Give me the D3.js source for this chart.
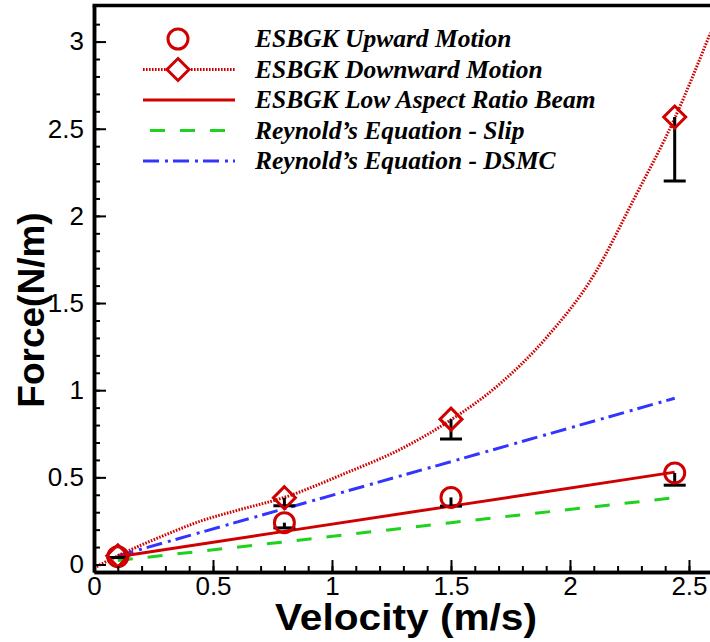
<!DOCTYPE html>
<html>
<head>
<meta charset="utf-8">
<script src="https://cdn.jsdelivr.net/npm/d3@7"></script>
<style>
    body { margin: 0; background: #fff; }
    .tick text { font-family: "Liberation Sans", Arial, sans-serif; }
</style>
</head>
<body>
<div class="chart"></div>
<script>

// Velocities where the ESBGK simulations were run
var velocity = [0.1, 0.8, 1.5, 2.44];

// ESBGK upward motion (circles) and its lower error bound
var upForce = [0.045, 0.24, 0.385, 0.525];
var upErrLow = [0.04, 0.21, 0.335, 0.455];

// ESBGK downward motion (diamonds) and its lower error bound
var downForce = [0.05, 0.383, 0.834, 2.567];
var downErrLow = [0.04, 0.337, 0.72, 2.2];

// Fitted curve through the downward motion results
var downCurveV = [0, 0.1, 0.3, 0.45, 0.6, 0.8, 1.05, 1.3, 1.5, 1.7, 1.9, 2.1, 2.27, 2.44, 2.59];
var downCurveF = [-0.02, 0.05, 0.17, 0.25, 0.31, 0.385, 0.52, 0.67, 0.83, 1.03, 1.3, 1.66, 2.1, 2.56, 3.05];

// Low aspect ratio beam and Reynold's equation lines
var beamForce = [0.045, 0.19, 0.335, 0.53];
var slipForce = [0.023, 0.13, 0.24, 0.383];
var dsmcForce = [0.05, 0.32, 0.59, 0.954];

// Tick values and labels
var xTicks = [0, 0.5, 1, 1.5, 2, 2.5];
var xTickLabels = ["0", "0.5", "1", "1.5", "2", "2.5"];
var yTicks = [0, 0.5, 1, 1.5, 2, 2.5, 3];
var yTickLabels = ["0", "0.5", "1", "1.5", "2", "2.5", "3"];

var legendNames = ["ESBGK Upward Motion", "ESBGK Downward Motion", "ESBGK Low Aspect Ratio Beam",
    "Reynold\u2019s Equation - Slip", "Reynold\u2019s Equation - DSMC"];

var width = 710, height = 642;
var red = "#d10000", green = "#1ed21e", blue = "#3434ff";

var svg = d3.select(".chart")
    .append("svg")
        .attr("width", width)
        .attr("height", height)
        .style("display", "block");

// Scales
var x = d3.scaleLinear().domain([0, 2.59]).range([94, 710.4]);
var y = d3.scaleLinear().domain([-0.043, 3.207]).range([572, 5.5]);

svg.append("defs").append("clipPath")
    .attr("id", "plotClip")
    .append("rect")
        .attr("x", 94).attr("y", 5.5)
        .attr("width", 620).attr("height", 566.5);

var plot = svg.append("g").attr("clip-path", "url(#plotClip)");

var line = d3.line()
    .x(function(d) { return x(d[0]); })
    .y(function(d) { return y(d[1]); });

// Straight series
var straight = [
    { values: slipForce, color: green, width: 3, dash: "15,15" },
    { values: dsmcForce, color: blue, width: 3, dash: "16,6,3,5" },
    { values: beamForce, color: red, width: 3, dash: null }
];

straight.forEach(function(s) {
    plot.append("path")
        .datum(d3.zip(velocity, s.values))
        .attr("d", line)
        .attr("fill", "none")
        .attr("stroke", s.color)
        .attr("stroke-width", s.width)
        .attr("stroke-dasharray", s.dash);
});

// Dotted fit through the downward motion
plot.append("path")
    .datum(d3.zip(downCurveV, downCurveF))
    .attr("d", line.curve(d3.curveMonotoneX))
    .attr("fill", "none")
    .attr("stroke", red)
    .attr("stroke-width", 3)
    .attr("stroke-dasharray", "1.6,1.4");

// Error bars (lower side only)
function errorBars(vals, lows) {
    velocity.forEach(function(v, i) {
        plot.append("line")
            .attr("x1", x(v)).attr("x2", x(v))
            .attr("y1", y(vals[i])).attr("y2", y(lows[i]))
            .attr("stroke", "#000").attr("stroke-width", 3);
        plot.append("line")
            .attr("x1", x(v) - 11).attr("x2", x(v) + 11)
            .attr("y1", y(lows[i])).attr("y2", y(lows[i]))
            .attr("stroke", "#000").attr("stroke-width", 3);
    });
}
errorBars(upForce, upErrLow);
errorBars(downForce, downErrLow);

// Markers
var diamond = "M0,-11L11,0L0,11L-11,0Z";

plot.selectAll(".up")
    .data(d3.zip(velocity, upForce))
    .enter()
    .append("circle")
        .attr("class", "up")
        .attr("cx", function(d) { return x(d[0]); })
        .attr("cy", function(d) { return y(d[1]); })
        .attr("r", 10)
        .attr("fill", "none")
        .attr("stroke", red)
        .attr("stroke-width", 3);

plot.selectAll(".down")
    .data(d3.zip(velocity, downForce))
    .enter()
    .append("path")
        .attr("class", "down")
        .attr("d", diamond)
        .attr("transform", function(d) { return "translate(" + x(d[0]) + "," + y(d[1]) + ")"; })
        .attr("fill", "none")
        .attr("stroke", red)
        .attr("stroke-width", 3);

// Axes, ticks point inward
var xAxis = d3.axisBottom(x)
    .tickValues(xTicks)
    .tickFormat(function(d, i) { return xTickLabels[i]; })
    .tickSize(-12)
    .tickSizeOuter(0)
    .tickPadding(5);

var xMinor = d3.axisBottom(x)
    .tickValues(d3.range(26).map(function(i) { return i / 10; }))
    .tickFormat("")
    .tickSize(-6)
    .tickSizeOuter(0);

var yAxis = d3.axisLeft(y)
    .tickValues(yTicks)
    .tickFormat(function(d, i) { return yTickLabels[i]; })
    .tickSize(-12)
    .tickSizeOuter(0)
    .tickPadding(10);

var yMinor = d3.axisLeft(y)
    .tickValues(d3.range(32).map(function(i) { return i / 10; }))
    .tickFormat("")
    .tickSize(-6)
    .tickSizeOuter(0);

[xMinor, xAxis].forEach(function(ax) {
    svg.append("g")
        .attr("transform", "translate(0,572)")
        .call(ax);
});
[yMinor, yAxis].forEach(function(ax) {
    svg.append("g")
        .attr("transform", "translate(94,0)")
        .call(ax);
});

svg.selectAll(".tick line").attr("stroke", "#000").attr("stroke-width", 2);
svg.selectAll(".domain").attr("stroke", "#000").attr("stroke-width", 3.5);
svg.selectAll(".tick text").attr("font-size", 26).attr("fill", "#000");

// Top frame line
svg.append("line")
    .attr("x1", 92.5).attr("x2", 710)
    .attr("y1", 5.5).attr("y2", 5.5)
    .attr("stroke", "#000").attr("stroke-width", 3.5);

// Axis titles
svg.append("text")
    .attr("x", 406).attr("y", 630)
    .attr("text-anchor", "middle")
    .attr("font-family", "Liberation Sans, Arial, sans-serif")
    .attr("font-weight", "bold")
    .attr("font-size", 36)
    .attr("textLength", 262)
    .attr("lengthAdjust", "spacingAndGlyphs")
    .text("Velocity (m/s)");

svg.append("text")
    .attr("transform", "translate(44,310) rotate(-90)")
    .attr("text-anchor", "middle")
    .attr("font-family", "Liberation Sans, Arial, sans-serif")
    .attr("font-weight", "bold")
    .attr("font-size", 37)
    .text("Force(N/m)");

// Legend
var legend = svg.append("g").attr("class", "legend");
var rowY = function(i) { return 39 + i * 30.5; };
var legendStyles = [
    { color: red, dash: null, line: false, mark: "circle" },
    { color: red, dash: "1.6,1.4", line: true, mark: "diamond" },
    { color: red, dash: null, line: true, mark: null },
    { color: green, dash: "15,15", line: true, mark: null },
    { color: blue, dash: "16,6,3,5", line: true, mark: null }
];

legendNames.forEach(function(name, i) {
    var st = legendStyles[i];
    var cy = rowY(i);
    if (st.line) {
        legend.append("line")
            .attr("x1", i == 3 ? 150 : 143).attr("x2", 235)
            .attr("y1", cy).attr("y2", cy)
            .attr("stroke", st.color)
            .attr("stroke-width", 3)
            .attr("stroke-dasharray", st.dash);
    }
    if (st.mark == "circle") {
        legend.append("circle")
            .attr("cx", 178).attr("cy", cy).attr("r", 10)
            .attr("fill", "#fff").attr("stroke", st.color).attr("stroke-width", 3);
    }
    if (st.mark == "diamond") {
        legend.append("path")
            .attr("d", diamond)
            .attr("transform", "translate(178," + cy + ")")
            .attr("fill", "#fff").attr("stroke", st.color).attr("stroke-width", 3);
    }
    legend.append("text")
        .attr("x", 255).attr("y", cy + 8)
        .attr("font-family", "Liberation Serif, Times New Roman, serif")
        .attr("font-weight", "bold")
        .attr("font-style", "italic")
        .attr("font-size", 25.5)
        .text(name);
});

</script>
</body>
</html>
